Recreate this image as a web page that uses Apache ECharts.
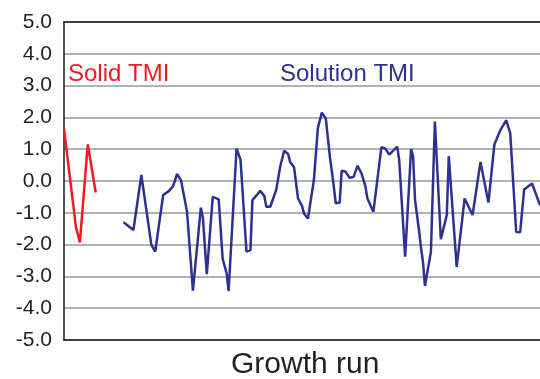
<!DOCTYPE html>
<html>
<head>
<meta charset="utf-8">
<script src="https://cdn.jsdelivr.net/npm/echarts@6/dist/echarts.min.js"></script>
<style>
html,body{margin:0;padding:0;background:#fff;}
#chart{width:540px;height:379px;}
</style>
</head>
<body>
<div id="chart"></div>
<script>
// Growth run index (0..240) and TMI values
var solidRun = [0, 6, 8, 12, 16];
var solidTmi = [1.65, -1.44, -1.93, 1.15, -0.36];

var solutionRun = [30, 35, 39, 43, 44, 46, 50, 53, 55, 57, 59, 62, 65, 69, 70, 72, 75, 78, 80, 82, 83, 84,
  87, 89, 92, 94, 95, 99, 101, 102, 104, 107, 109, 111, 113, 114, 116, 118, 120, 121, 123, 126, 128, 130,
  132, 134, 136, 137, 139, 140, 142, 144, 146, 148, 150, 152, 153, 156, 160, 162, 164, 168, 169, 172, 175,
  176, 177, 179, 180, 181, 182, 183, 185, 187, 190, 193, 194, 198, 202, 206, 210, 214, 217, 220, 223, 225,
  228, 230, 232, 236, 240];
var solutionTmi = [-1.30, -1.54, 0.19, -1.55, -2.00, -2.22, -0.44, -0.31, -0.16, 0.22, 0.02, -0.95, -3.45, -0.84, -1.13, -2.93, -0.50, -0.58, -2.45, -2.90, -3.46, -3.50,
  1.02, 0.67, -2.22, -2.17, -0.60, -0.31, -0.47, -0.81, -0.81, -0.28, 0.45, 0.95, 0.85, 0.60, 0.43, -0.55, -0.78, -1.02, -1.18, 0.03, 1.67, 2.15,
  1.97, 0.80, -0.15, -0.70, -0.68, 0.32, 0.29, 0.10, 0.13, 0.48, 0.24, -0.18, -0.55, -0.97, 1.06, 1.02, 0.83, 1.08, 0.66, -2.38, 1.00,
  0.78, -0.60, -1.55, -2.10, -2.55, -3.30, -3.27, -2.22, 1.87, -1.83, -1.07, 0.78, -2.70, -0.55, -1.07, 0.60, -0.68, 1.15, 1.60, 1.91, 1.50,
  -1.60, -1.61, -0.27, -0.08, -0.76];

var yTicks = [-5, -4, -3, -2, -1, 0, 1, 2, 3, 4, 5];
var runMax = 240;
var xTitle = 'Growth run';
var solidName = 'Solid TMI';
var solutionName = 'Solution TMI';

function pairs(xs, ys) { return xs.map(function (x, i) { return [x, ys[i]]; }); }

var chart = echarts.init(document.getElementById('chart'), null, {renderer: 'canvas'});
var font = '"Liberation Sans", Arial, Helvetica, sans-serif';
chart.setOption({
  animation: false,
  backgroundColor: '#fff',
  grid: {left: 64, top: 22, right: 0, bottom: 39, containLabel: false},
  xAxis: [{
    type: 'value', min: 0, max: runMax,
    axisLine: {show: true, onZero: false, lineStyle: {color: '#1a1a1a', width: 1.5}},
    axisTick: {show: false}, axisLabel: {show: false}, splitLine: {show: false}
  }, {
    type: 'value', min: 0, max: runMax, position: 'top',
    axisLine: {show: true, onZero: false, lineStyle: {color: '#1a1a1a', width: 1.5}},
    axisTick: {show: false}, axisLabel: {show: false}, splitLine: {show: false}
  }],
  yAxis: {
    type: 'value', min: yTicks[0], max: yTicks[yTicks.length - 1], interval: 1,
    axisLine: {show: true, lineStyle: {color: '#1a1a1a', width: 1.5}},
    axisTick: {show: false},
    axisLabel: {
      margin: 12, color: '#231f20', fontSize: 21, fontFamily: font,
      formatter: function (v) { return v.toFixed(1); }
    },
    splitLine: {show: true, lineStyle: {color: '#999999', width: 1.6}}
  },
  graphic: [
    {type: 'text', left: 68, top: 62, style: {text: solidName, font: '24px ' + font, fill: '#ed1c24'}},
    {type: 'text', left: 280, top: 62, style: {text: solutionName, font: '24px ' + font, fill: '#2e3192'}},
    {type: 'text', left: 231, top: 350, style: {text: xTitle, font: '30px ' + font, fill: '#231f20'}}
  ],
  series: [{
    name: solidName, type: 'line', xAxisIndex: 0,
    data: pairs(solidRun, solidTmi), showSymbol: false, symbol: 'none',
    lineStyle: {color: '#ed1c24', width: 2.5}
  }, {
    name: solutionName, type: 'line', xAxisIndex: 0,
    data: pairs(solutionRun, solutionTmi), showSymbol: false, symbol: 'none',
    lineStyle: {color: '#2e3192', width: 2.5}
  }]
});
</script>
</body>
</html>
